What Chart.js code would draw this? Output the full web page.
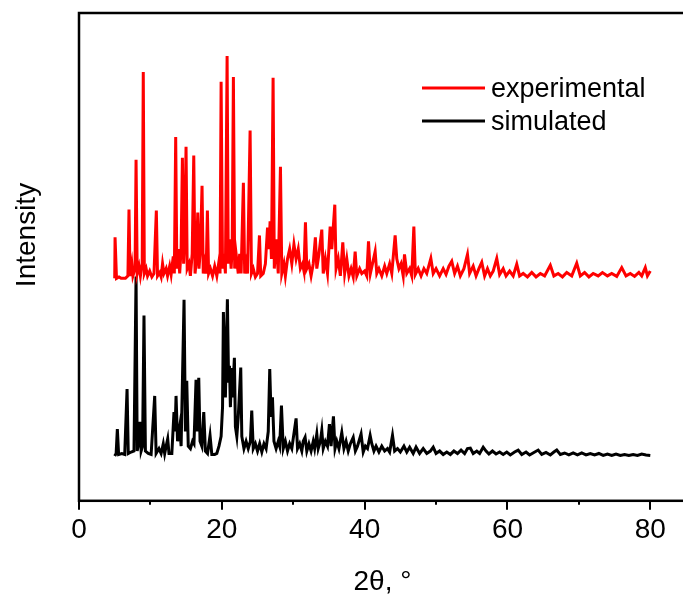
<!DOCTYPE html>
<html>
<head>
<meta charset="utf-8">
<script src="https://cdn.jsdelivr.net/npm/chart.js@4"></script>
<style>
  html, body { margin: 0; padding: 0; background: #fff; overflow: hidden; }
  #wrap { width: 690px; height: 601px; }
</style>
</head>
<body>
<div id="wrap"><canvas id="xrdChart"></canvas></div>
<script>
// 2theta positions and intensities (above each pattern's own baseline)
const expX = [5.0, 5.05, 5.25, 5.6, 5.9, 6.5, 6.85, 7.0, 7.15, 7.4, 7.55, 7.85, 7.99, 8.15, 8.4, 8.6, 8.85, 9.0, 9.15, 9.4,
  9.6, 9.9, 10.2, 10.5, 10.83, 11.0, 11.3, 11.5, 11.7, 11.9, 12.2, 12.4, 12.7, 12.9, 13.2, 13.35, 13.54, 13.7, 13.9, 14.1,
  14.3, 14.48, 14.65, 14.8, 14.99, 15.15, 15.4, 15.6, 15.85, 16.07, 16.25, 16.45, 16.63, 16.8, 17.0, 17.23, 17.4, 17.6, 17.8, 17.98,
  18.15, 18.4, 18.7, 19.0, 19.3, 19.6, 19.75, 19.9, 20.1, 20.3, 20.5, 20.74, 20.9, 21.1, 21.3, 21.45, 21.62, 21.8, 22.0, 22.3,
  22.5, 22.7, 23.02, 23.2, 23.4, 23.6, 23.96, 24.15, 24.4, 24.7, 25.0, 25.27, 25.45, 25.8, 26.1, 26.4, 26.6, 26.76, 26.95, 27.18,
  27.35, 27.6, 27.9, 28.21, 28.4, 28.7, 28.9, 29.2, 29.5, 29.8, 30.1, 30.4, 30.7, 31.0, 31.3, 31.5, 31.71, 31.9, 32.2, 32.5,
  32.8, 33.1, 33.3, 33.6, 34.0, 34.2, 34.5, 34.8, 35.17, 35.4, 35.82, 36.0, 36.3, 36.6, 36.94, 37.2, 37.5, 37.8, 38.1, 38.4,
  38.67, 38.9, 39.3, 39.6, 40.0, 40.3, 40.54, 40.8, 41.1, 41.47, 41.7, 42.0, 42.4, 42.8, 43.1, 43.5, 43.8, 44.27, 44.5, 44.8,
  45.1, 45.4, 45.58, 45.9, 46.3, 46.6, 46.89, 47.1, 47.5, 47.9, 48.3, 48.7, 49.27, 49.6, 50.0, 50.5, 51.0, 51.4, 51.8, 52.2,
  52.6, 53.0, 53.4, 53.9, 54.4, 54.7, 55.2, 55.6, 56.0, 56.4, 56.8, 57.2, 57.6, 58.0, 58.5, 58.9, 59.4, 59.8, 60.3, 60.8,
  61.3, 61.7, 62.2, 62.8, 63.4, 64.0, 64.6, 65.2, 66.0, 66.5, 67.1, 67.7, 68.3, 69.0, 69.7, 70.2, 70.8, 71.4, 72.0, 72.7,
  73.3, 74.0, 74.6, 75.3, 76.0, 76.6, 77.2, 77.8, 78.4, 78.8, 79.3, 79.6, 80.0];
const expY = [0, 8.4, 0, 0.3, 0, 0, 0.5, 14.1, 0.5, 3, 0.5, 2, 24.3, 1, 2.5, 0.5, 3, 42.3, 1, 2,
  0.5, 1.5, 0.3, 1.0, 13.9, 0.5, 1.2, 0.3, 3.0, 1.0, 2.0, 0.5, 2.5, 0.8, 4.5, 1, 29.0, 2, 6, 1,
  6, 24.7, 3, 8, 27.0, 2, 3, 0.5, 5, 25.2, 1, 4, 13.5, 2, 6, 19.0, 1, 3, 1, 13.9,
  1, 2, 0.5, 2.5, 0.5, 3.5, 1, 40.3, 2, 5, 1, 45.6, 3, 8, 2, 6, 41.3, 2, 5, 1,
  5, 1, 19.6, 1, 3, 1, 30.3, 1, 2, 0.3, 1, 8.8, 0.5, 1, 3, 10.4, 6, 11.7, 4, 41.1,
  2, 8, 1, 22.9, 1, 3, 0.5, 4, 6, 3, 7, 4, 6, 2, 3, 1.5, 11.5, 2, 3, 0.5,
  3, 8.4, 2, 5, 10.0, 1, 4, 1, 10.6, 6, 15.1, 2, 4, 0.5, 7.4, 1, 4, 0.5, 2, 0.3,
  5.5, 0.5, 2, 1, 1.5, 0.5, 7.6, 1, 3, 5.5, 1, 2, 0.5, 2.5, 1, 3, 1, 8.8, 4, 2,
  3, 0.5, 4.9, 1, 2, 0.5, 10.6, 0.8, 2, 0.5, 2, 1, 4.1, 1, 2, 0.5, 2, 0.8, 2.5, 3.5,
  1, 2.5, 0.5, 2, 4.9, 1, 2.5, 0.5, 2, 3.3, 0.5, 2, 0.5, 1.5, 4.1, 0.8, 2, 0.5, 1.5, 0.5,
  2.9, 0.5, 1, 0.3, 1.2, 0.3, 1, 0.5, 2.7, 0.5, 1, 0.3, 1.2, 0.5, 3.1, 0.5, 1.2, 0.3, 1, 0.5,
  1.2, 0.5, 1, 0.4, 2.2, 0.5, 1, 0.4, 1.2, 0.5, 2.2, 0.5, 1.5];

const simX = [5.0, 5.2, 5.37, 5.55, 6.0, 6.4, 6.73, 6.9, 7.3, 7.7, 7.99, 8.15, 8.4, 8.55, 8.7, 8.9, 9.1, 9.3, 9.7, 10.1,
  10.6, 10.8, 11.2, 11.5, 11.8, 12.0, 12.2, 12.42, 12.6, 13.0, 13.3, 13.45, 13.59, 13.8, 14.1, 14.3, 14.71, 14.9, 15.09, 15.3,
  15.6, 15.9, 16.1, 16.39, 16.55, 16.77, 16.95, 17.2, 17.47, 17.7, 18.0, 18.35, 18.6, 19.0, 19.3, 19.6, 19.9, 20.1, 20.22, 20.4,
  20.5, 20.78, 20.95, 21.07, 21.2, 21.4, 21.5, 21.76, 21.9, 22.1, 22.3, 22.65, 22.8, 23.1, 23.4, 23.7, 24.0, 24.19, 24.4, 24.7,
  25.0, 25.3, 25.6, 25.9, 26.2, 26.5, 26.71, 26.9, 27.09, 27.3, 27.6, 27.9, 28.1, 28.35, 28.6, 28.9, 29.2, 29.5, 29.8, 30.4,
  30.6, 30.9, 31.2, 31.4, 31.66, 31.9, 32.2, 32.5, 32.8, 33.0, 33.3, 33.5, 33.8, 34.0, 34.2, 34.5, 34.8, 35.07, 35.3, 35.63,
  35.85, 36.1, 36.4, 36.8, 37.1, 37.4, 37.7, 38.0, 38.4, 38.7, 39.0, 39.5, 39.8, 40.1, 40.4, 40.77, 41.0, 41.3, 41.6, 42.0,
  42.4, 42.8, 43.2, 43.5, 43.9, 44.2, 44.6, 45.0, 45.5, 45.9, 46.3, 46.8, 47.2, 47.7, 48.2, 48.7, 49.2, 49.6, 50.0, 50.5,
  51.0, 51.5, 52.0, 52.5, 53.0, 53.5, 54.0, 54.4, 54.8, 55.2, 55.7, 56.1, 56.6, 57.0, 57.4, 57.9, 58.4, 58.9, 59.4, 59.9,
  60.4, 61.0, 61.5, 62.0, 62.6, 63.1, 63.7, 64.3, 64.8, 65.4, 66.0, 66.5, 66.9, 67.4, 68.0, 68.6, 69.2, 69.8, 70.4, 71.0,
  71.6, 72.2, 72.8, 73.4, 74.0, 74.6, 75.2, 75.8, 76.4, 77.0, 77.6, 78.2, 78.8, 79.4, 80.0];
const simY = [0, 0.5, 5.5, 0.3, 0.5, 0.3, 13.7, 0.5, 0.8, 1, 36.8, 1, 3, 7.0, 1, 2, 28.8, 1, 0.5, 0.3,
  12.3, 0.5, 1.5, 0.5, 2.5, 0.5, 2, 3.5, 0.5, 0.5, 9.0, 5, 12.3, 3, 6, 2, 32.0, 5, 15.4, 2,
  1.5, 3, 2.5, 15.6, 5, 16.0, 3, 2, 9.0, 1, 0.5, 4.2, 0.3, 0.3, 0.5, 2, 4, 10, 29.5, 20,
  12, 32.1, 15, 18.5, 10, 18, 12, 20.1, 6, 4, 8, 18.1, 4, 1.5, 3, 1.5, 3, 9.3, 1.5, 2.5,
  1, 2.5, 0.8, 2.5, 1.5, 5, 17.8, 8, 12.0, 3, 1.5, 3, 2, 10.3, 1.5, 3, 1, 2.5, 1.5, 7.7,
  1.5, 2.5, 1, 3, 3.8, 1, 2.5, 1, 3, 1.5, 4.5, 1.5, 3, 5.2, 1.5, 3, 2, 6.5, 2, 8.1,
  1.5, 3, 1.5, 4.8, 1.5, 3, 1, 2.5, 3.8, 1, 2, 4.5, 0.8, 2, 1.5, 4.2, 2.5, 1, 2, 0.8,
  2, 1, 1.5, 0.8, 4.2, 1, 1.5, 0.8, 2, 0.8, 1.8, 0.5, 1.8, 0.5, 1.5, 0.5, 1, 1.8, 0.5, 1,
  0.3, 0.8, 0.3, 1, 0.5, 1.2, 0.5, 1.5, 1.6, 0.5, 1, 0.5, 1.8, 1, 0.4, 1, 0.4, 0.8, 0.3, 0.8,
  0.2, 0.8, 1.2, 0.3, 0.8, 0.2, 0.7, 1.2, 0.3, 0.7, 0.2, 0.8, 1.2, 0.3, 0.6, 0.2, 0.6, 0.2, 0.6, 0.2,
  0.5, 0.2, 0.5, 0.1, 0.4, 0.1, 0.4, 0.1, 0.3, 0.1, 0.3, 0.1, 0.4, 0.2, 0.1];

// vertical offsets used to stack the two patterns
const expOffset = 45.6;
const simOffset = 9.2;

const xTicks = [0, 20, 40, 60, 80];
const seriesNames = ['experimental', 'simulated'];
const seriesColors = ['#ff0000', '#000000'];
const yTitle = 'Intensity';

const FONT = '"Liberation Sans", Arial, sans-serif';

function toPoints(xs, ys, off) {
    return xs.map((x, i) => ({ x: x, y: ys[i] + off }));
}

// frame, small tick marks, y title and legend
const decor = {
    id: 'decor',
    afterDraw(chart) {
        const ctx = chart.ctx;
        const a = chart.chartArea;
        const xs = chart.scales.x;
        ctx.save();
        ctx.strokeStyle = '#000';
        ctx.lineWidth = 2.5;
        ctx.strokeRect(a.left, a.top, a.right - a.left, a.bottom - a.top);
        ctx.lineWidth = 2;
        for (let v = 0; v <= 80; v += 10) {
            const px = Math.round(xs.getPixelForValue(v));
            const len = v % 20 === 0 ? 9 : 4;
            ctx.beginPath();
            ctx.moveTo(px, a.bottom);
            ctx.lineTo(px, a.bottom + len);
            ctx.stroke();
        }
        ctx.fillStyle = '#000';
        ctx.font = '28px ' + FONT;
        ctx.textAlign = 'center';
        ctx.textBaseline = 'middle';
        ctx.translate(27, 235);
        ctx.rotate(-Math.PI / 2);
        ctx.fillText(yTitle, 0, 0);
        ctx.setTransform(1, 0, 0, 1, 0, 0);
        // legend
        ctx.font = '27px ' + FONT;
        ctx.textAlign = 'left';
        chart.data.datasets.forEach((ds, i) => {
            const y = 88 + i * 33;
            ctx.strokeStyle = ds.borderColor;
            ctx.lineWidth = 3;
            ctx.beginPath();
            ctx.moveTo(422, y);
            ctx.lineTo(485, y);
            ctx.stroke();
            ctx.fillText(ds.label, 491, y + 2);
        });
        ctx.restore();
    }
};

const ctx = document.getElementById('xrdChart').getContext('2d');
new Chart(ctx, {
    type: 'line',
    data: {
        datasets: [{
            label: seriesNames[0],
            data: toPoints(expX, expY, expOffset),
            borderColor: seriesColors[0],
            borderWidth: 3,
            pointRadius: 0,
            tension: 0
        }, {
            label: seriesNames[1],
            data: toPoints(simX, simY, simOffset),
            borderColor: seriesColors[1],
            borderWidth: 3,
            pointRadius: 0,
            tension: 0
        }]
    },
    options: {
        responsive: true,
        maintainAspectRatio: false,
        animation: false,
        events: [],
        layout: { padding: { left: 79, top: 13, right: 4, bottom: 0 } },
        plugins: { legend: { display: false }, tooltip: { enabled: false } },
        scales: {
            x: {
                type: 'linear',
                min: 0,
                max: 85,
                afterBuildTicks: (s) => { s.ticks = xTicks.map(v => ({ value: v })); },
                grid: { display: false, drawTicks: false },
                border: { display: false },
                ticks: { color: '#000', padding: 13, maxRotation: 0, font: { family: FONT, size: 28 } },
                title: {
                    display: true, text: '2θ, °', color: '#000',
                    font: { family: FONT, size: 28, lineHeight: 1.2 },
                    padding: { top: 5, bottom: 2 }
                }
            },
            y: {
                display: false,
                min: 0,
                max: 100
            }
        }
    },
    plugins: [decor]
});
</script>
</body>
</html>
